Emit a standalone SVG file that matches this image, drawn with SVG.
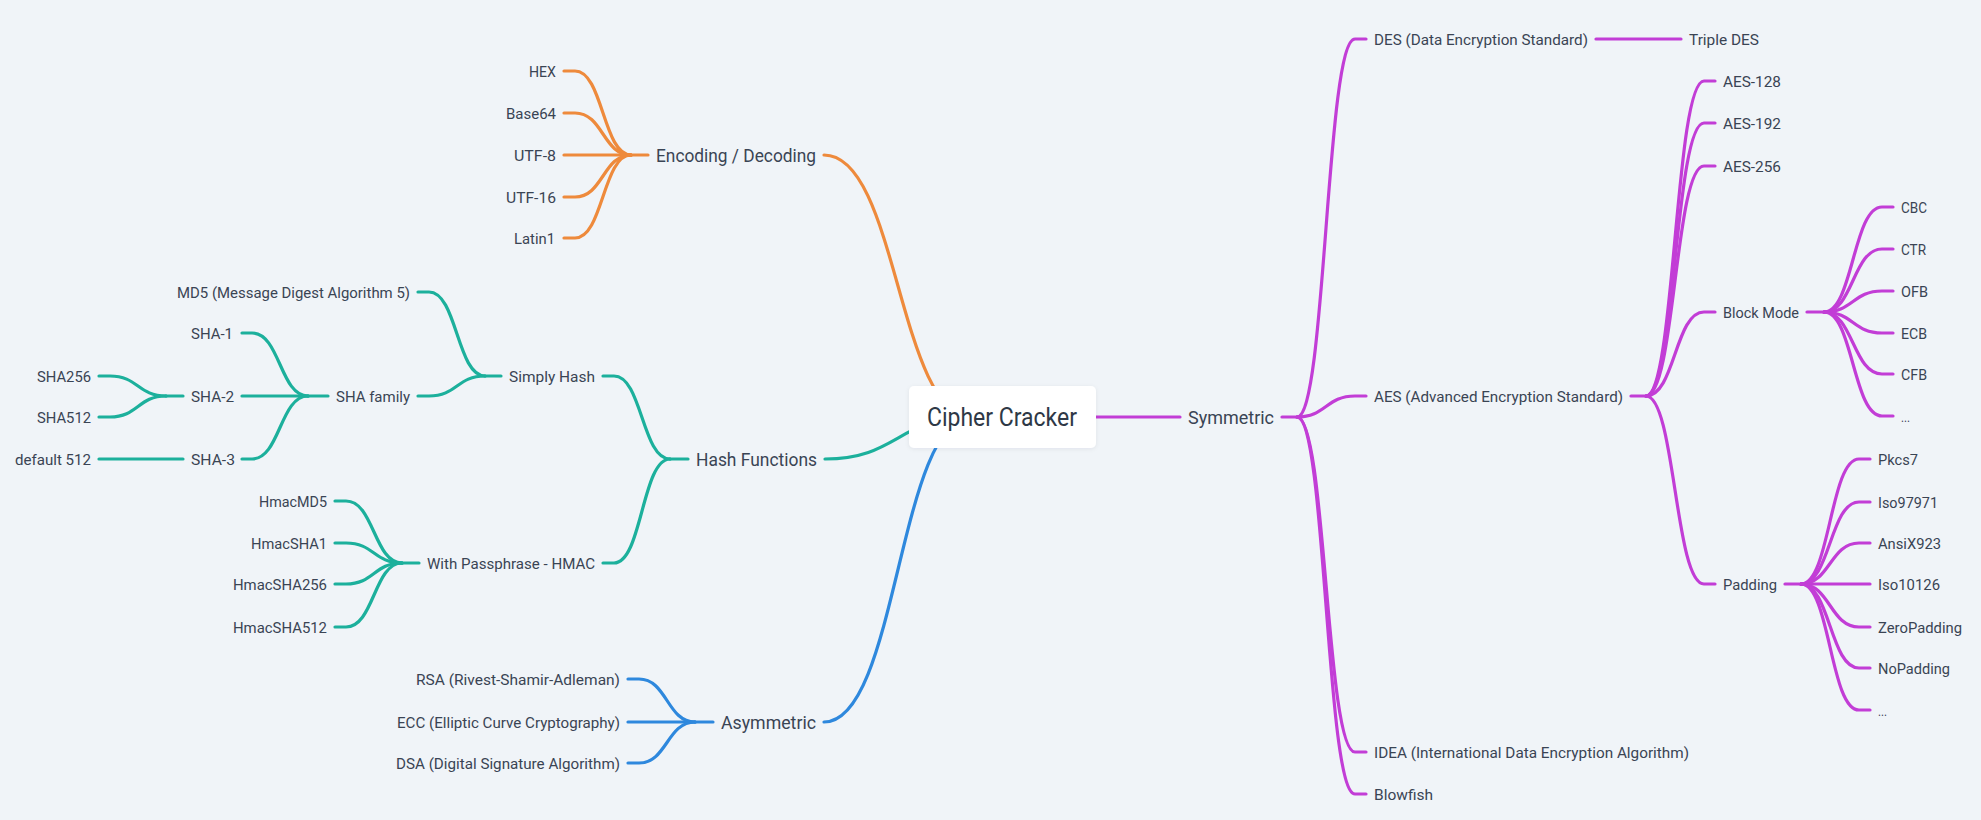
<svg xmlns="http://www.w3.org/2000/svg" width="1981" height="820" viewBox="0 0 1981 820">
<style>
.bg{fill:#F0F4F8}
.ln{fill:none;stroke-width:3.2;stroke-linecap:round;stroke-linejoin:round}
.o{stroke:#EE8A3C}
.g{stroke:#1CB09C}
.b{stroke:#2E88DD}
.m{stroke:#C23DD6}
text{font-family:Roboto,"Liberation Sans",sans-serif;fill:#3A4454}
.s{font-size:15px}
.l1{font-size:19px}
.root{font-size:26px;fill:#2E3846}
</style>
<defs>
<filter id="sh" x="-10%" y="-20%" width="120%" height="150%">
<feDropShadow dx="0" dy="1" stdDeviation="2" flood-color="#1e2a3a" flood-opacity="0.07"/>
</filter>
</defs>
<rect class="bg" x="0" y="0" width="1981" height="820"/>
<g id="connectors">
<g id="c-encoding">
<path class="ln o" d="M824 155 C898 155 898 417 972 417"/>
<path class="ln o" d="M631 155 H648"/>
<path class="ln o" d="M564 71 H575 C603 71 603 155 631 155"/>
<path class="ln o" d="M564 113 H575 C603 113 603 155 631 155"/>
<path class="ln o" d="M564 155 H631"/>
<path class="ln o" d="M564 197 H575 C603 197 603 155 631 155"/>
<path class="ln o" d="M564 238 H575 C603 238 603 155 631 155"/>
</g>
<g id="c-hash">
<path class="ln g" d="M825 459 C898 459 898 417 972 417"/>
<path class="ln g" d="M670 459 H688"/>
<path class="ln g" d="M603 376 H614 C642 376 642 459 670 459"/>
<path class="ln g" d="M603 563 H614 C642 563 642 459 670 459"/>
<path class="ln g" d="M485 376 H501"/>
<path class="ln g" d="M418 292 H429 C457 292 457 376 485 376"/>
<path class="ln g" d="M418 396 H429 C457 396 457 376 485 376"/>
<path class="ln g" d="M308 396 H328"/>
<path class="ln g" d="M242 333 H252 C280 333 280 396 308 396"/>
<path class="ln g" d="M242 396 H308"/>
<path class="ln g" d="M242 459 H252 C280 459 280 396 308 396"/>
<path class="ln g" d="M166 396 H183"/>
<path class="ln g" d="M99 376 H110 C138 376 138 396 166 396"/>
<path class="ln g" d="M99 417 H110 C138 417 138 396 166 396"/>
<path class="ln g" d="M99 459 H183"/>
<path class="ln g" d="M402 563 H419"/>
<path class="ln g" d="M335 501 H346 C374 501 374 563 402 563"/>
<path class="ln g" d="M335 543 H346 C374 543 374 563 402 563"/>
<path class="ln g" d="M335 584 H346 C374 584 374 563 402 563"/>
<path class="ln g" d="M335 627 H346 C374 627 374 563 402 563"/>
</g>
<g id="c-asym">
<path class="ln b" d="M824 722 C898 722 898 417 972 417"/>
<path class="ln b" d="M695 722 H713"/>
<path class="ln b" d="M628 679 H639 C667 679 667 722 695 722"/>
<path class="ln b" d="M628 722 H695"/>
<path class="ln b" d="M628 763 H639 C667 763 667 722 695 722"/>
</g>
<g id="c-sym">
<path class="ln m" d="M1030 417 H1180"/>
<path class="ln m" d="M1282 417 H1297"/>
<path class="ln m" d="M1297 417 C1326 417 1326 39 1355 39 H1366"/>
<path class="ln m" d="M1297 417 C1326 417 1326 396 1355 396 H1366"/>
<path class="ln m" d="M1297 417 C1326 417 1326 752 1355 752 H1366"/>
<path class="ln m" d="M1297 417 C1326 417 1326 794 1355 794 H1366"/>
<path class="ln m" d="M1596 39 H1681"/>
<path class="ln m" d="M1631 396 H1646"/>
<path class="ln m" d="M1646 396 C1675 396 1675 81 1704 81 H1715"/>
<path class="ln m" d="M1646 396 C1675 396 1675 123 1704 123 H1715"/>
<path class="ln m" d="M1646 396 C1675 396 1675 166 1704 166 H1715"/>
<path class="ln m" d="M1646 396 C1675 396 1675 312 1704 312 H1715"/>
<path class="ln m" d="M1646 396 C1675 396 1675 584 1704 584 H1715"/>
<path class="ln m" d="M1807 312 H1824"/>
<path class="ln m" d="M1824 312 C1853 312 1853 207 1882 207 H1893"/>
<path class="ln m" d="M1824 312 C1853 312 1853 249 1882 249 H1893"/>
<path class="ln m" d="M1824 312 C1853 312 1853 291 1882 291 H1893"/>
<path class="ln m" d="M1824 312 C1853 312 1853 333 1882 333 H1893"/>
<path class="ln m" d="M1824 312 C1853 312 1853 374 1882 374 H1893"/>
<path class="ln m" d="M1824 312 C1853 312 1853 416 1882 416 H1893"/>
<path class="ln m" d="M1785 584 H1801"/>
<path class="ln m" d="M1801 584 C1830 584 1830 459 1859 459 H1870"/>
<path class="ln m" d="M1801 584 C1830 584 1830 502 1859 502 H1870"/>
<path class="ln m" d="M1801 584 C1830 584 1830 543 1859 543 H1870"/>
<path class="ln m" d="M1801 584 H1870"/>
<path class="ln m" d="M1801 584 C1830 584 1830 627 1859 627 H1870"/>
<path class="ln m" d="M1801 584 C1830 584 1830 668 1859 668 H1870"/>
<path class="ln m" d="M1801 584 C1830 584 1830 710 1859 710 H1870"/>
</g>
</g>
<g id="root">
<rect x="909" y="386" width="187" height="62" rx="5" fill="#FFFFFF" filter="url(#sh)"/>
<text class="root" x="927" y="426" textLength="150" lengthAdjust="spacingAndGlyphs">Cipher Cracker</text>
</g>
<g id="n-encoding"><text class="l1" x="656" y="162" textLength="160" lengthAdjust="spacingAndGlyphs">Encoding / Decoding</text></g>
<g id="n-hex"><text class="s" x="529" y="76.5" textLength="27" lengthAdjust="spacingAndGlyphs">HEX</text></g>
<g id="n-base64"><text class="s" x="506" y="118.5" textLength="50" lengthAdjust="spacingAndGlyphs">Base64</text></g>
<g id="n-utf8"><text class="s" x="514" y="160.5" textLength="42" lengthAdjust="spacingAndGlyphs">UTF-8</text></g>
<g id="n-utf16"><text class="s" x="506" y="202.5" textLength="50" lengthAdjust="spacingAndGlyphs">UTF-16</text></g>
<g id="n-latin1"><text class="s" x="514" y="243.5" textLength="41" lengthAdjust="spacingAndGlyphs">Latin1</text></g>
<g id="n-hash"><text class="l1" x="696" y="466" textLength="121" lengthAdjust="spacingAndGlyphs">Hash Functions</text></g>
<g id="n-simply"><text class="s" x="509" y="381.5" textLength="86" lengthAdjust="spacingAndGlyphs">Simply Hash</text></g>
<g id="n-md5"><text class="s" x="177" y="297.5" textLength="233" lengthAdjust="spacingAndGlyphs">MD5 (Message Digest Algorithm 5)</text></g>
<g id="n-shafam"><text class="s" x="336" y="401.5" textLength="74" lengthAdjust="spacingAndGlyphs">SHA family</text></g>
<g id="n-sha1"><text class="s" x="191" y="338.5" textLength="42" lengthAdjust="spacingAndGlyphs">SHA-1</text></g>
<g id="n-sha2"><text class="s" x="191" y="401.5" textLength="43" lengthAdjust="spacingAndGlyphs">SHA-2</text></g>
<g id="n-sha3"><text class="s" x="191" y="464.5" textLength="44" lengthAdjust="spacingAndGlyphs">SHA-3</text></g>
<g id="n-sha256"><text class="s" x="37" y="381.5" textLength="54" lengthAdjust="spacingAndGlyphs">SHA256</text></g>
<g id="n-sha512"><text class="s" x="37" y="422.5" textLength="54" lengthAdjust="spacingAndGlyphs">SHA512</text></g>
<g id="n-def512"><text class="s" x="15" y="464.5" textLength="76" lengthAdjust="spacingAndGlyphs">default 512</text></g>
<g id="n-hmac"><text class="s" x="427" y="568.5" textLength="168" lengthAdjust="spacingAndGlyphs">With Passphrase - HMAC</text></g>
<g id="n-hmacmd5"><text class="s" x="259" y="506.5" textLength="68" lengthAdjust="spacingAndGlyphs">HmacMD5</text></g>
<g id="n-hmacsha1"><text class="s" x="251" y="548.5" textLength="76" lengthAdjust="spacingAndGlyphs">HmacSHA1</text></g>
<g id="n-hmacsha256"><text class="s" x="233" y="589.5" textLength="94" lengthAdjust="spacingAndGlyphs">HmacSHA256</text></g>
<g id="n-hmacsha512"><text class="s" x="233" y="632.5" textLength="94" lengthAdjust="spacingAndGlyphs">HmacSHA512</text></g>
<g id="n-asym"><text class="l1" x="721" y="729" textLength="95" lengthAdjust="spacingAndGlyphs">Asymmetric</text></g>
<g id="n-rsa"><text class="s" x="416" y="684.5" textLength="204" lengthAdjust="spacingAndGlyphs">RSA (Rivest-Shamir-Adleman)</text></g>
<g id="n-ecc"><text class="s" x="397" y="727.5" textLength="223" lengthAdjust="spacingAndGlyphs">ECC (Elliptic Curve Cryptography)</text></g>
<g id="n-dsa"><text class="s" x="396" y="768.5" textLength="224" lengthAdjust="spacingAndGlyphs">DSA (Digital Signature Algorithm)</text></g>
<g id="n-sym"><text class="l1" x="1188" y="424" textLength="86" lengthAdjust="spacingAndGlyphs">Symmetric</text></g>
<g id="n-des"><text class="s" x="1374" y="44.5" textLength="214" lengthAdjust="spacingAndGlyphs">DES (Data Encryption Standard)</text></g>
<g id="n-3des"><text class="s" x="1689" y="44.5" textLength="70" lengthAdjust="spacingAndGlyphs">Triple DES</text></g>
<g id="n-aes"><text class="s" x="1374" y="401.5" textLength="249" lengthAdjust="spacingAndGlyphs">AES (Advanced Encryption Standard)</text></g>
<g id="n-aes128"><text class="s" x="1723" y="86.5" textLength="58" lengthAdjust="spacingAndGlyphs">AES-128</text></g>
<g id="n-aes192"><text class="s" x="1723" y="128.5" textLength="58" lengthAdjust="spacingAndGlyphs">AES-192</text></g>
<g id="n-aes256"><text class="s" x="1723" y="171.5" textLength="58" lengthAdjust="spacingAndGlyphs">AES-256</text></g>
<g id="n-blockmode"><text class="s" x="1723" y="317.5" textLength="76" lengthAdjust="spacingAndGlyphs">Block Mode</text></g>
<g id="n-cbc"><text class="s" x="1901" y="212.5" textLength="26" lengthAdjust="spacingAndGlyphs">CBC</text></g>
<g id="n-ctr"><text class="s" x="1901" y="254.5" textLength="25" lengthAdjust="spacingAndGlyphs">CTR</text></g>
<g id="n-ofb"><text class="s" x="1901" y="296.5" textLength="27" lengthAdjust="spacingAndGlyphs">OFB</text></g>
<g id="n-ecb"><text class="s" x="1901" y="338.5" textLength="26" lengthAdjust="spacingAndGlyphs">ECB</text></g>
<g id="n-cfb"><text class="s" x="1901" y="379.5" textLength="26" lengthAdjust="spacingAndGlyphs">CFB</text></g>
<g id="n-bm-more"><text class="s" x="1901" y="421.5" textLength="9" lengthAdjust="spacingAndGlyphs">...</text></g>
<g id="n-padding"><text class="s" x="1723" y="589.5" textLength="54" lengthAdjust="spacingAndGlyphs">Padding</text></g>
<g id="n-pkcs7"><text class="s" x="1878" y="464.5" textLength="40" lengthAdjust="spacingAndGlyphs">Pkcs7</text></g>
<g id="n-iso97971"><text class="s" x="1878" y="507.5" textLength="60" lengthAdjust="spacingAndGlyphs">Iso97971</text></g>
<g id="n-ansix923"><text class="s" x="1878" y="548.5" textLength="63" lengthAdjust="spacingAndGlyphs">AnsiX923</text></g>
<g id="n-iso10126"><text class="s" x="1878" y="589.5" textLength="62" lengthAdjust="spacingAndGlyphs">Iso10126</text></g>
<g id="n-zeropad"><text class="s" x="1878" y="632.5" textLength="84" lengthAdjust="spacingAndGlyphs">ZeroPadding</text></g>
<g id="n-nopad"><text class="s" x="1878" y="673.5" textLength="72" lengthAdjust="spacingAndGlyphs">NoPadding</text></g>
<g id="n-pad-more"><text class="s" x="1878" y="715.5" textLength="9" lengthAdjust="spacingAndGlyphs">...</text></g>
<g id="n-idea"><text class="s" x="1374" y="757.5" textLength="315" lengthAdjust="spacingAndGlyphs">IDEA (International Data Encryption Algorithm)</text></g>
<g id="n-blowfish"><text class="s" x="1374" y="799.5" textLength="59" lengthAdjust="spacingAndGlyphs">Blowfish</text></g>
</svg>
